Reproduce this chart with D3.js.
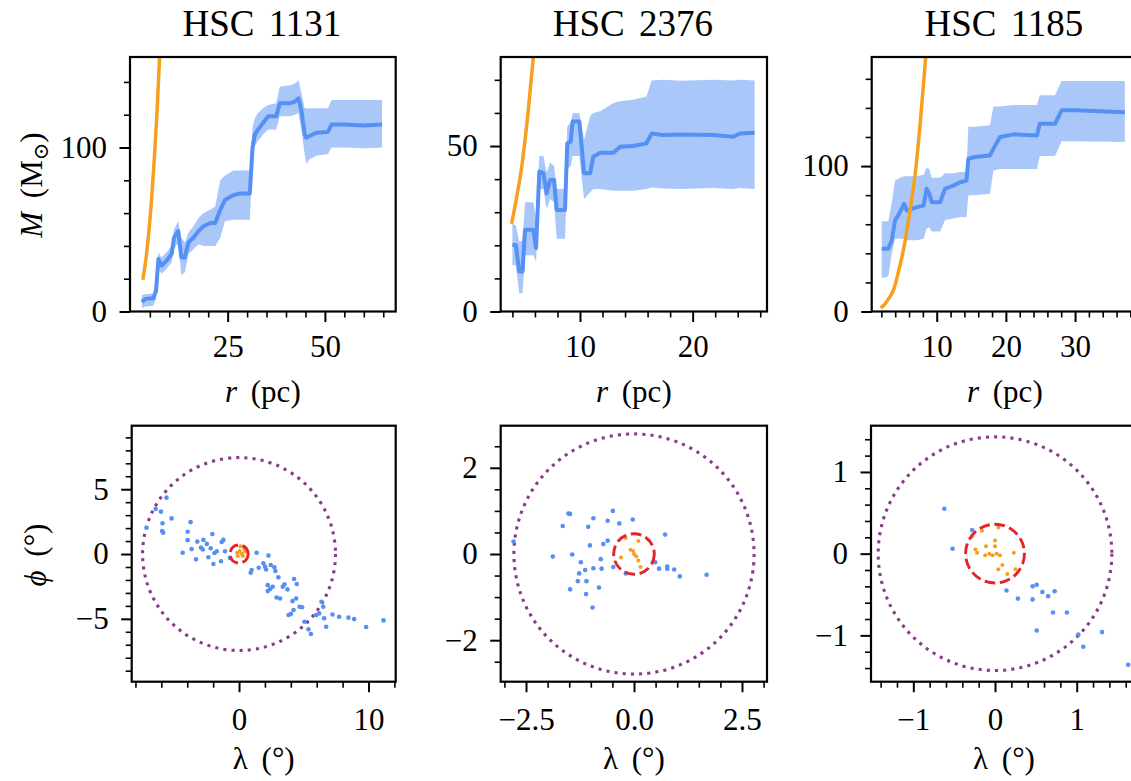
<!DOCTYPE html>
<html lang="en">
<head>
<meta charset="UTF-8" />
<title>HSC mass profiles</title>
<script src="https://d3js.org/d3.v7.min.js"></script>
<style>
  body { margin: 0; background: #fff; }
  text { font-family: "Liberation Serif", "DejaVu Serif", serif; fill: #000; }
</style>
</head>
<body>
<svg width="1131" height="781"></svg>
<script>
const titles = ['HSC 1131', 'HSC 2376', 'HSC 1185'];

// enclosed mass: r (pc), median, lower, upper (Msun)
const prof1131 = [
  [2.95, 5.7, 2, 10], [3.8, 7.7, 3, 10.5], [5.9, 8.1, 3.5, 11], [6.6, 12.7, 8, 19],
  [7.2, 32, 26, 36], [8.0, 28, 23, 33], [9.3, 31, 26, 36], [10.6, 35, 30, 40],
  [11.2, 45, 38, 50], [12.3, 49, 42, 55], [13.1, 33, 22, 45], [14.0, 33, 24, 42],
  [14.9, 42, 35, 48], [16.2, 45, 38, 52], [17.5, 49, 41, 57], [18.8, 52, 40, 60],
  [20.5, 54, 40, 62], [21.8, 54, 40, 64], [23.1, 62, 45, 80], [24.3, 68, 55, 83],
  [26.5, 71, 56, 86], [28.2, 72, 56, 86], [30.7, 72, 56, 86], [31.4, 100, 92, 112],
  [32.0, 108, 101, 118], [32.8, 111, 104, 121], [34.1, 115, 108, 124], [35.4, 119, 111, 126],
  [37.5, 119, 111, 127], [38.4, 127, 119, 137], [41.0, 127, 119, 138], [42.3, 128, 120, 139],
  [43.2, 130, 121, 141], [44.0, 122, 110, 133], [44.8, 108, 96, 124], [45.2, 106, 90, 124],
  [46.1, 107, 93, 124], [47.8, 109, 95, 124], [50.8, 109.5, 96, 124], [51.7, 114, 100, 129],
  [55.0, 114, 100, 129], [60.0, 113.5, 99.5, 129], [64.7, 114, 100, 129]
];
const prof2376 = [
  [4.0, 20.1, 14, 26.5], [4.3, 20.1, 14, 26], [4.61, 12.1, 5.5, 21], [4.9, 12.1, 5.5, 21.5],
  [5.12, 24.7, 17, 33], [5.86, 24.7, 17, 33], [6.1, 19.1, 15, 28], [6.39, 42.3, 37, 47],
  [6.75, 41.8, 37, 47], [7.04, 35.7, 31, 42], [7.34, 39.7, 34, 45], [7.7, 39.7, 33, 44],
  [7.93, 30.7, 22, 37], [8.67, 30.7, 22, 37], [8.87, 50.8, 43, 56], [9.17, 51.3, 44, 57],
  [9.35, 57.4, 47, 60], [9.94, 57.4, 47, 60], [10.36, 41.8, 34, 52], [10.9, 41.8, 36, 59],
  [11.18, 46.8, 37, 60], [11.8, 48, 37, 60.5], [12.97, 48, 36.5, 63], [13.56, 49.8, 36.5, 63.5],
  [14.7, 50, 36.5, 64], [15.9, 50.8, 37, 65], [16.36, 53.8, 37.5, 69.8], [17.4, 53.3, 37.2, 70],
  [18.9, 53.5, 37, 69.7], [21.8, 53.3, 37.3, 70], [23.6, 52.8, 37, 69.8], [24.2, 53.8, 37.3, 70],
  [25.5, 54, 37, 69.8]
];
const prof1185 = [
  [2.05, 43.1, 23, 62], [3.0, 43.1, 24, 62], [3.5, 48.8, 40, 75], [3.97, 62.6, 50, 90],
  [4.7, 68.3, 50, 92], [5.27, 74, 50, 93], [5.66, 69.5, 49, 93], [6.4, 70.6, 49, 93],
  [7.1, 71.8, 49, 93], [8.1, 72.9, 50, 94], [8.55, 84.4, 57, 99], [8.93, 81, 58, 98],
  [9.28, 75.2, 55, 92], [10.5, 75.2, 55, 92], [11.2, 84.4, 63, 95], [12.4, 86.6, 64, 95],
  [13.4, 88.9, 65, 96], [14.3, 90, 65, 96], [14.57, 105, 80, 127], [15.5, 106.2, 80, 127],
  [17.7, 107.3, 81, 128], [18.2, 112, 97, 141], [19.15, 120, 98, 141], [21.1, 121.8, 98, 142],
  [24.5, 121.1, 98, 142], [24.9, 129.1, 107, 148.7], [27.1, 129.1, 107, 148.7],
  [28.06, 138.3, 117, 158.5], [30.2, 138.3, 117, 158.5], [37.2, 137, 116.5, 158.5]
];

// orange curve: r (pc), M (Msun)
const tidal1131 = [[3.2, 19.4], [4.0, 32], [4.8, 50], [5.5, 70], [6.2, 95], [6.9, 124], [7.5, 155], [7.8, 170]];
const tidal2376 = [[3.93, 26.5], [4.4, 35], [4.83, 43.8], [5.41, 60.9], [5.86, 77], [6.0, 82]];
const tidal1185 = [[1.9, 2.5], [2.5, 5], [3.0, 8.5], [3.73, 14.5], [4.5, 28], [5.17, 42], [6.14, 69.5], [7.0, 99.3], [7.69, 133.7], [8.4, 174.6], [8.6, 185]];

// star positions: lambda, phi (deg)
const stars1131 = [
  [-7.14, 2.03], [-6.44, 3.47], [-6.03, 3.27], [-5.6, 4.35], [-5.91, 2.37], [-5.94, 1.78], [-5.86, 1.65],
  [-5.21, 2.75], [-4.35, 0.1], [-3.97, 1.72], [-3.97, 1.07], [-3.74, 2.46], [-3.66, 0.38], [-3.32, -0.41],
  [-3.22, 0.96], [-2.94, 0.5], [-2.75, 1.09], [-2.8, 0.35], [-2.49, 0.78], [-2.37, -0.25], [-2.19, 0.44],
  [-2.06, 1.54], [-1.98, -0.77], [-1.9, 0.08], [-1.72, 0.21], [-1.39, -0.56], [-1.34, 0.93], [-1.21, 1.09],
  [-1.08, 0.21], [-0.7, -0.3], [1.36, 0.1], [0.9, -1.44], [0.97, -1.24], [1.52, -1.06], [1.88, -0.72],
  [2.01, -0.98], [2.27, -0.12], [2.09, -1.19], [2.45, -0.85], [2.73, -1.03], [2.81, -1.31], [2.22, -2.4],
  [2.6, -2.52], [2.22, -2.86], [2.4, -2.7], [3.04, -1.8], [3.38, -2.52], [2.9, -3.35], [3.17, -3.43],
  [3.51, -2.34], [3.74, -2.73], [4.25, -1.93], [4.46, -2.31], [4.13, -3.63], [4.41, -3.43], [3.82, -4.7],
  [4.0, -4.62], [4.21, -4.32], [4.67, -4.07], [4.87, -4.11], [5.05, -5.22], [5.36, -5.81], [5.55, -6.17],
  [5.96, -4.71], [6.19, -4.58], [6.37, -3.68], [6.5, -4.06], [6.57, -4.96], [6.73, -5.61], [7.22, -4.66],
  [7.73, -4.84], [8.45, -4.91], [8.89, -5.02], [9.82, -5.63], [11.16, -5.12]
];
const core1131 = [[-0.15, 0.1], [0.05, 0.25], [0.2, 0.05], [0.45, 0.2], [0.1, 0.6], [0.4, 0.45], [0.3, -0.15], [-0.1, -0.15]];
const stars2376 = [
  [-2.79, 0.29], [-1.88, -0.06], [-1.65, 0.65], [-1.52, 0.94], [-1.48, 0.93], [-1.43, -0.01], [-1.48, -0.82],
  [-1.27, -0.45], [-1.23, -0.19], [-1.3, -0.63], [-1.13, -0.37], [-1.1, -0.63], [-1.11, -0.93], [-1.06, 0.63],
  [-1.02, 0.2], [-0.94, 0.83], [-0.94, -0.33], [-0.96, -1.24], [-0.81, -0.78], [-0.77, -0.12], [-0.75, -0.34],
  [-0.71, 0.23], [-0.61, 0.31], [-0.61, 0.77], [-0.49, 1.0], [-0.48, -0.3], [-0.34, 0.71], [-0.19, -0.45],
  [-0.03, 0.8], [0.49, -0.19], [0.58, -0.34], [0.72, 0.45], [0.77, -0.29], [0.77, -0.34], [0.93, -0.36],
  [1.06, -0.52], [1.68, -0.48]
];
const core2376 = [[-0.19, 0.37], [-0.3, -0.08], [-0.08, 0.1], [0.0, 0.0], [0.05, -0.05], [0.1, -0.15], [0.15, -0.3], [0.1, 0.3], [-0.02, 0.07]];
const stars1185 = [
  [-0.62, 0.55], [-0.52, 0.06], [-0.28, 0.29], [0.14, -0.45], [0.28, -0.55], [0.46, -0.4], [0.51, -0.38],
  [0.46, -0.56], [0.58, -0.47], [0.65, -0.52], [0.73, -0.46], [0.71, -0.72], [0.88, -0.72], [0.51, -0.94],
  [1.02, -0.99], [1.31, -0.96], [1.08, -1.14], [1.63, -1.36]
];
const core1185 = [
  [-0.28, 0.21], [-0.16, 0.28], [0.04, 0.32], [0.0, 0.16], [-0.11, 0.09], [0.0, 0.09], [-0.24, 0.05],
  [-0.22, 0.01], [-0.12, -0.02], [-0.07, 0.0], [-0.03, -0.02], [0.02, 0.0], [0.06, -0.02], [0.23, 0.01],
  [0.09, -0.14], [0.04, -0.19], [0.25, -0.19], [0.15, -0.25]
];

// circle radii (deg): outer dotted, inner dashed
const outerR = [7.45, 2.78, 1.43];
const innerR = [0.7, 0.47, 0.36];

// ticks
const topXMajor = [[25, 50], [10, 20], [10, 20, 30]];
const topXMinor = [[5, 10, 15, 20, 30, 35, 40, 45, 55, 60, 65], [4, 6, 8, 12, 14, 16, 18, 22, 24, 26], [2, 4, 6, 8, 12, 14, 16, 18, 22, 24, 26, 28, 32, 34, 36, 38]];
const topYMajor = [[0, 100], [0, 50], [0, 100]];
const topYMinor = [[20, 40, 60, 80, 120, 140], [10, 20, 30, 40, 60, 70], [20, 40, 60, 80, 120, 140, 160]];
const botXMajor = [[0, 10], [-2.5, 0, 2.5], [-1, 0, 1]];
const botXMinor = [[-8, -6, -4, -2, 2, 4, 6, 8, 12], [-3, -2, -1.5, -1, -0.5, 0.5, 1, 1.5, 2, 3], [-1.4, -1.2, -0.8, -0.6, -0.4, -0.2, 0.2, 0.4, 0.6, 0.8, 1.2, 1.4, 1.6]];
const botYMajor = [[-5, 0, 5], [-2, 0, 2], [-1, 0, 1]];
const botYMinor = [[-9, -8, -7, -6, -4, -3, -2, -1, 1, 2, 3, 4, 6, 7, 8, 9], [-2.5, -1.5, -1, -0.5, 0.5, 1, 1.5, 2.5], [-1.4, -1.2, -0.8, -0.6, -0.4, -0.2, 0.2, 0.4, 0.6, 0.8, 1.2, 1.4]];
const botXDigits = [0, 1, 0];

const profiles = [prof1131, prof2376, prof1185];
const tidals = [tidal1131, tidal2376, tidal1185];
const starSets = [stars1131, stars2376, stars1185];
const coreSets = [core1131, core2376, core1185];

// layout (pixel boxes and axis limits)
const topBoxes = [
  { x0: 130, x1: 395.7, y0: 57, y1: 311.5, xd: [-0.1, 68.2], yd: [0, 155.2] },
  { x0: 500.7, x1: 767, y0: 57, y1: 311.5, xd: [2.96, 26.6], yd: [0, 76.9] },
  { x0: 871.7, x1: 1138, y0: 57, y1: 311.5, xd: [0.6, 39.1], yd: [0, 175] }
];
const botBoxes = [
  { x0: 131.7, x1: 395.7, y0: 425.7, y1: 681.7, xd: [-8.29, 12.1], yd: [-9.85, 9.9] },
  { x0: 500.7, x1: 767, y0: 425.7, y1: 681.7, xd: [-3.086, 3.079], yd: [-2.963, 2.977] },
  { x0: 871, x1: 1137, y0: 425.7, y1: 681.7, xd: [-1.518, 1.738], yd: [-1.567, 1.566] }
];

const blue = '#5590f4';
const orange = '#f79f1f';
const purple = '#8a3a8a';
const red = '#e4232a';
const fs = 31;

const svg = d3.select('svg');
const defs = svg.append('defs');

function fmt(digits) {
  return d => (d < 0 ? '\u2212' : '') + Math.abs(d).toFixed(digits);
}

function drawAxes(g, x, y, xMaj, xMin, yMaj, yMin, xDigits, xPad) {
  const h = y.range()[0];
  g.append('g').attr('transform', `translate(0,${h})`)
    .call(d3.axisBottom(x).tickValues(xMin).tickSize(6).tickFormat(''))
    .call(a => a.select('.domain').remove())
    .call(a => a.selectAll('line').attr('stroke-width', 1.6));
  g.append('g').attr('transform', `translate(0,${h})`)
    .call(d3.axisBottom(x).tickValues(xMaj).tickSize(10.5).tickPadding(xPad).tickFormat(fmt(xDigits)))
    .call(a => a.select('.domain').remove())
    .call(a => a.selectAll('line').attr('stroke-width', 2))
    .call(a => a.selectAll('text').attr('font-size', fs).attr('font-family', '"Liberation Serif", serif'));
  g.append('g')
    .call(d3.axisLeft(y).tickValues(yMin).tickSize(6).tickFormat(''))
    .call(a => a.select('.domain').remove())
    .call(a => a.selectAll('line').attr('stroke-width', 1.6));
  g.append('g')
    .call(d3.axisLeft(y).tickValues(yMaj).tickSize(10.5).tickPadding(12.5).tickFormat(fmt(0)))
    .call(a => a.select('.domain').remove())
    .call(a => a.selectAll('line').attr('stroke-width', 2))
    .call(a => a.selectAll('text').attr('font-size', fs).attr('font-family', '"Liberation Serif", serif'));
}

function frame(g, b, id) {
  defs.append('clipPath').attr('id', id)
    .append('rect').attr('x', 0).attr('y', 0).attr('width', b.x1 - b.x0).attr('height', b.y1 - b.y0);
  return g.append('g').attr('clip-path', `url(#${id})`);
}

// top row: mass profiles
topBoxes.forEach((b, i) => {
  const g = svg.append('g').attr('transform', `translate(${b.x0},${b.y0})`);
  const x = d3.scaleLinear().domain(b.xd).range([0, b.x1 - b.x0]);
  const y = d3.scaleLinear().domain(b.yd).range([b.y1 - b.y0, 0]);
  const plot = frame(g, b, 'clipT' + i);
  const prof = profiles[i];

  plot.append('path').datum(prof)
    .attr('fill', blue).attr('fill-opacity', 0.5)
    .attr('d', d3.area().x(d => x(d[0])).y0(d => y(d[2])).y1(d => y(d[3])));
  plot.append('path').datum(prof)
    .attr('fill', 'none').attr('stroke', blue).attr('stroke-width', 4).attr('stroke-linejoin', 'round')
    .attr('d', d3.line().x(d => x(d[0])).y(d => y(d[1])));
  plot.append('path').datum(tidals[i])
    .attr('fill', 'none').attr('stroke', orange).attr('stroke-width', 3.5)
    .attr('d', d3.line().curve(d3.curveMonotoneX).x(d => x(d[0])).y(d => y(d[1])));

  drawAxes(g, x, y, topXMajor[i], topXMinor[i], topYMajor[i], topYMinor[i], 0, 13);
  g.append('rect').attr('width', b.x1 - b.x0).attr('height', b.y1 - b.y0)
    .attr('fill', 'none').attr('stroke', '#000').attr('stroke-width', 2.2);

  svg.append('text').attr('x', (b.x0 + b.x1) / 2 - 1).attr('y', 36)
    .attr('text-anchor', 'middle').attr('font-size', 37).attr('word-spacing', 5).text(titles[i]);
  const xl = svg.append('text').attr('x', (b.x0 + b.x1) / 2).attr('y', 402)
    .attr('text-anchor', 'middle').attr('font-size', fs).attr('word-spacing', 6);
  xl.append('tspan').attr('font-style', 'italic').text('r');
  xl.append('tspan').text(' (pc)');
});

// bottom row: sky positions
botBoxes.forEach((b, i) => {
  const g = svg.append('g').attr('transform', `translate(${b.x0},${b.y0})`);
  const x = d3.scaleLinear().domain(b.xd).range([0, b.x1 - b.x0]);
  const y = d3.scaleLinear().domain(b.yd).range([b.y1 - b.y0, 0]);
  const plot = frame(g, b, 'clipB' + i);

  plot.append('circle').attr('cx', x(0)).attr('cy', y(0)).attr('r', x(outerR[i]) - x(0))
    .attr('fill', 'none').attr('stroke', purple).attr('stroke-width', 3.1).attr('stroke-dasharray', '3.1 5.1');
  plot.selectAll('.star').data(starSets[i]).enter().append('circle').attr('class', 'star')
    .attr('cx', d => x(d[0])).attr('cy', d => y(d[1])).attr('r', 2.3).attr('fill', blue);
  plot.selectAll('.core').data(coreSets[i]).enter().append('circle').attr('class', 'core')
    .attr('cx', d => x(d[0])).attr('cy', d => y(d[1])).attr('r', 2).attr('fill', orange);
  plot.append('circle').attr('cx', x(0)).attr('cy', y(0)).attr('r', x(innerR[i]) - x(0))
    .attr('fill', 'none').attr('stroke', red).attr('stroke-width', 2.9).attr('stroke-dasharray', '10.7 4.6');

  drawAxes(g, x, y, botXMajor[i], botXMinor[i], botYMajor[i], botYMinor[i], botXDigits[i], 16);
  g.append('rect').attr('width', b.x1 - b.x0).attr('height', b.y1 - b.y0)
    .attr('fill', 'none').attr('stroke', '#000').attr('stroke-width', 2.2);

  const xl = svg.append('text').attr('x', (b.x0 + b.x1) / 2).attr('y', 769)
    .attr('text-anchor', 'middle').attr('font-size', fs).attr('word-spacing', 6);
  xl.append('tspan').text('\u03bb');
  xl.append('tspan').text(' (\u00b0)');
});

// y labels
const yl1 = svg.append('text').attr('transform', 'translate(42,185) rotate(-90)')
  .attr('text-anchor', 'middle').attr('font-size', fs).attr('word-spacing', 6);
yl1.append('tspan').attr('font-style', 'italic').text('M');
yl1.append('tspan').text(' (M');
yl1.append('tspan').attr('font-size', 21).attr('dy', 6).text('\u2299');
yl1.append('tspan').attr('dy', -6).text(')');

const yl2 = svg.append('text').attr('transform', 'translate(46,555) rotate(-90)')
  .attr('text-anchor', 'middle').attr('font-size', fs).attr('word-spacing', 6);
yl2.append('tspan').attr('font-style', 'italic').text('\u03d5');
yl2.append('tspan').text(' (\u00b0)');
</script>
</body>
</html>
